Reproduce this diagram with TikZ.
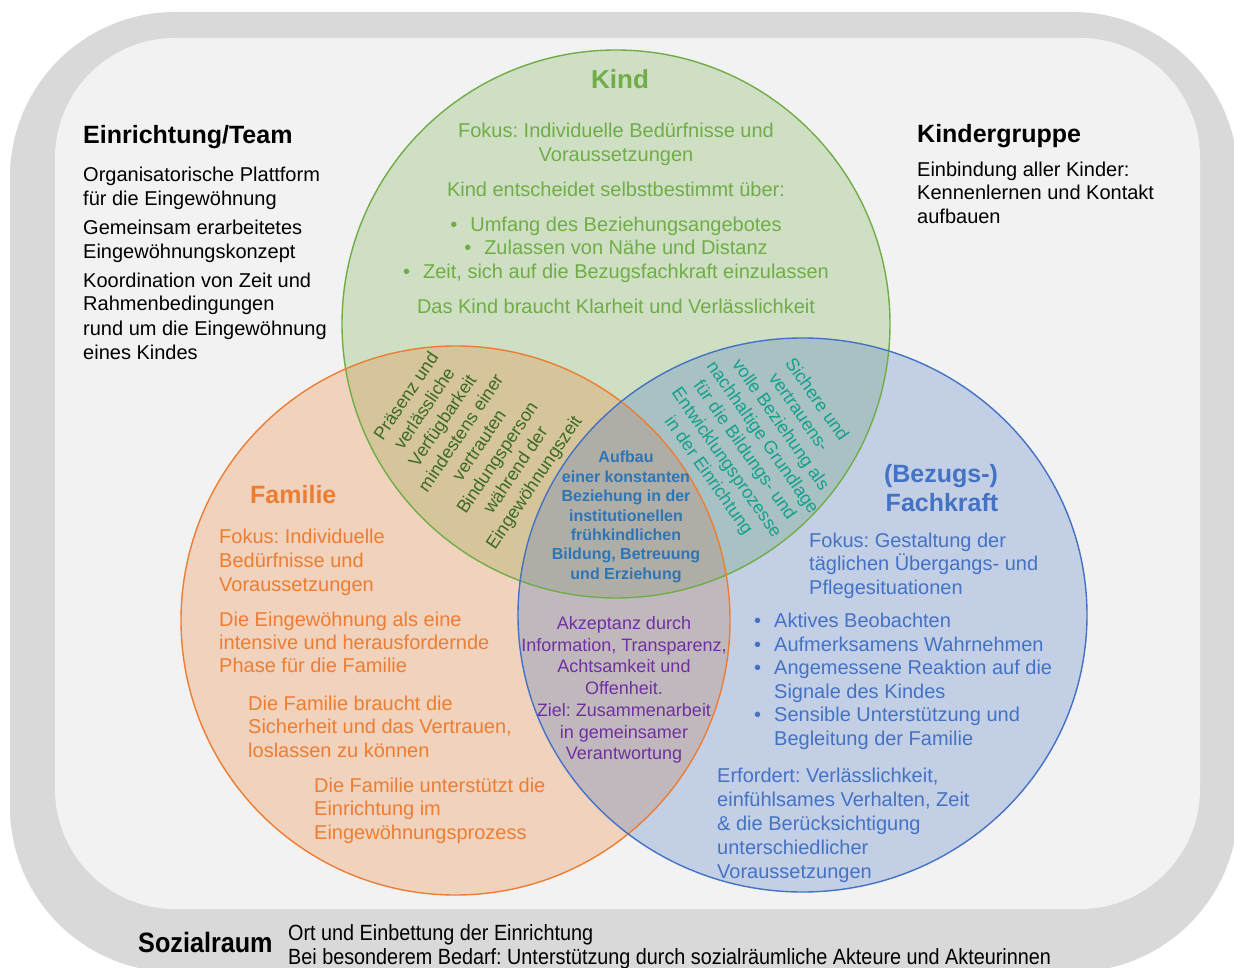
\documentclass[tikz,border=0pt]{standalone}
\usepackage{fontspec}
\setmainfont{Liberation Sans}
\frenchspacing
\definecolor{kgreen}{HTML}{70AD47}
\definecolor{forange}{HTML}{ED7D31}
\definecolor{fblue}{HTML}{4472C4}
\definecolor{cblue}{HTML}{2E75B6}
\definecolor{purp}{HTML}{7030A0}
\definecolor{dgreen}{HTML}{3B6B27}
\definecolor{tealtxt}{HTML}{14A08C}
\definecolor{outergray}{HTML}{D9D9D9}
\definecolor{innergray}{HTML}{F2F2F2}
\tikzset{
  body/.style={font=\fontsize{20}{24}\selectfont, inner sep=0pt},
  ttl/.style={font=\fontsize{25}{30}\selectfont\bfseries, inner sep=0pt},
  circfill/.style={fill opacity=0.27, draw=none},
  circline/.style={line width=1.4pt},
  rotblock/.style={font=\fontsize{18}{22}\selectfont, inner sep=0pt, align=center},
}
\begin{document}
\begin{tikzpicture}[x=1pt,y=-1pt]
\useasboundingbox (0,0) rectangle (1234,968);
\clip (0,0) rectangle (1234,968);
% backgrounds
\fill[outergray, rounded corners=165pt] (10,12) rectangle (1238,972);
\fill[innergray, rounded corners=120pt] (55,38) rectangle (1200,909);
% circle fills
\fill[kgreen, circfill] (616,324) ellipse [x radius=274, y radius=274];
\fill[forange, circfill] (455.5,620.5) ellipse [x radius=274.5, y radius=274.5];
\fill[fblue, circfill] (802.5,615) ellipse [x radius=284.5, y radius=277];
% circle outlines
\draw[kgreen, circline] (616,324) ellipse [x radius=274, y radius=274];
\draw[forange, circline] (455.5,620.5) ellipse [x radius=274.5, y radius=274.5];
\draw[fblue, circline] (802.5,615) ellipse [x radius=284.5, y radius=277];

% Einrichtung/Team
\node[ttl, anchor=base west] (einT) at (83,144) {Einrichtung/Team};
\foreach \txt/\yy [count=\i] in {Organisatorische Plattform/182, für die Eingewöhnung/206, Gemeinsam erarbeitetes/235, Eingewöhnungskonzept/259, Koordination von Zeit und/288, Rahmenbedingungen/311, rund um die Eingewöhnung/335, eines Kindes/359}
  \node[body, anchor=base west] (ein\i) at (83,\yy) {\txt};

% Kindergruppe
\node[ttl, anchor=base west] (kgT) at (917,143) {Kindergruppe};
\foreach \txt/\yy [count=\i] in {Einbindung aller Kinder:/177, Kennenlernen und Kontakt/200, aufbauen/224}
  \node[body, anchor=base west] (kg\i) at (917,\yy) {\txt};

% Kind
\node[ttl, kgreen, anchor=base, font=\fontsize{26}{30}\selectfont\bfseries] (kindT) at (620,89) {Kind};
\foreach \txt/\yy [count=\i] in {Fokus: Individuelle Bedürfnisse und/138, Voraussetzungen/162, Kind entscheidet selbstbestimmt über:/197, •\hspace{13pt}Umfang des Beziehungsangebotes/232, •\hspace{13pt}Zulassen von Nähe und Distanz/255, {•\hspace{13pt}Zeit, sich auf die Bezugsfachkraft einzulassen}/279, Das Kind braucht Klarheit und Verlässlichkeit/313}
  \node[body, kgreen, anchor=base] (kind\i) at (616,\yy) {\txt};

% Familie
\node[ttl, forange, anchor=base west] (famT) at (250,503) {Familie};
\foreach \txt/\xx/\yy [count=\i] in {Fokus: Individuelle/219/543, Bedürfnisse und/219/567, Voraussetzungen/219/591, Die Eingewöhnung als eine/219/626, intensive und herausfordernde/219/649, Phase für die Familie/219/672, Die Familie braucht die/248/710, {Sicherheit und das Vertrauen,}/248/733, loslassen zu können/248/757, Die Familie unterstützt die/314/792, Einrichtung im/314/815, Eingewöhnungsprozess/314/839}
  \node[body, forange, anchor=base west] (fam\i) at (\xx,\yy) {\txt};

% Fachkraft
\node[ttl, fblue, anchor=base] (fkT1) at (941,482) {(Bezugs-)};
\node[ttl, fblue, anchor=base] (fkT2) at (942,511) {Fachkraft};
\foreach \txt/\xx/\yy [count=\i] in {Fokus: Gestaltung der/809/547, täglichen Übergangs- und/809/570, Pflegesituationen/809/594, Aktives Beobachten/774/627, Aufmerksamens Wahrnehmen/774/651, Angemessene Reaktion auf die/774/674, Signale des Kindes/774/698, Sensible Unterstützung und/774/721, Begleitung der Familie/774/745, {Erfordert: Verlässlichkeit,}/717/782, {einfühlsames Verhalten, Zeit}/717/806, \& die Berücksichtigung/717/830, unterschiedlicher/717/854, Voraussetzungen/717/878}
  \node[body, fblue, anchor=base west] (fk\i) at (\xx,\yy) {\txt};
\foreach \yy [count=\i] in {627,651,674,721}
  \node[body, fblue, anchor=base west] (fkb\i) at (754,\yy) {•};

% Intersection texts
\node[rotblock, dgreen, rotate=56] (go) at (471,440) {Präsenz und\\verlässliche\\Verfügbarkeit\\mindestens einer\\vertrauten\\Bindungsperson\\während der\\Eingewöhnungszeit};
\node[rotblock, tealtxt, rotate=-55] (gb) at (762,438) {Sichere und\\vertrauens-\\volle Beziehung als\\nachhaltige Grundlage\\für die Bildungs- und\\Entwicklungsprozesse\\in der Einrichtung};
\node[inner sep=0pt, align=center, cblue, font=\fontsize{16}{19.4}\selectfont\bfseries] (mid) at (626,517) {Aufbau\\einer konstanten\\Beziehung in der\\institutionellen\\frühkindlichen\\Bildung, Betreuung\\und Erziehung};
\node[inner sep=0pt, align=center, purp, font=\fontsize{18}{21.7}\selectfont] (ob) at (624,690) {Akzeptanz durch\\Information, Transparenz,\\Achtsamkeit und\\Offenheit.\\Ziel: Zusammenarbeit\\in gemeinsamer\\Verantwortung};

% Sozialraum
\node[inner sep=0pt, anchor=base west, font=\fontsize{28}{30}\selectfont\bfseries] (soz) at (138,952) {\scalebox{0.9}[1]{Sozialraum}};
\node[inner sep=0pt, anchor=base west, font=\fontsize{22}{24}\selectfont] (soz1) at (288,940) {\scalebox{0.9}[1]{Ort und Einbettung der Einrichtung}};
\node[inner sep=0pt, anchor=base west, font=\fontsize{22}{24}\selectfont] (soz2) at (288,964) {\scalebox{0.9}[1]{Bei besonderem Bedarf: Unterstützung durch sozialräumliche Akteure und Akteurinnen}};
\end{tikzpicture}
\end{document}
